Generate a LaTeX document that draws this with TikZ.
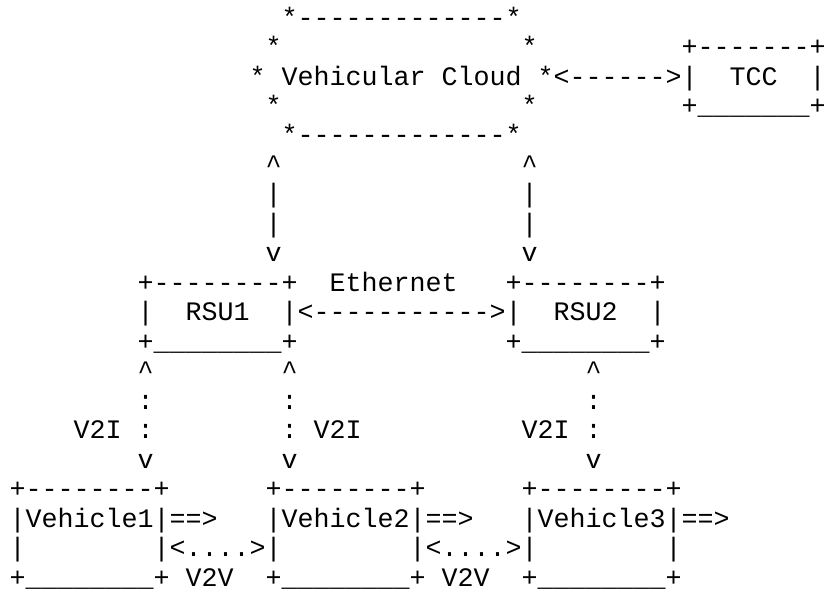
\documentclass[tikz,border=0pt]{standalone}
\usepackage{fontspec}
\setmonofont{Liberation Mono}
\begin{document}
\begin{tikzpicture}[x=16pt,y=-29.47pt,
  txt/.style={anchor=base west,inner sep=0pt,outer sep=0pt,
    font=\ttfamily\fontsize{26.67pt}{29.47pt}\selectfont}]
\useasboundingbox (0pt,0pt) rectangle (824pt,-590pt);
\def\up{\textasciicircum}
\def\bar{\_\_\_\_\_\_\_\_}
\begin{scope}[shift={(0.6,-0.1157)}]
  % vehicular cloud
  \node[txt] (cloudtop) at (17,1) {*-------------*};
  \node[txt] (cloudnw)  at (16,2) {*};
  \node[txt] (cloudne)  at (32,2) {*};
  \node[txt] (cloud)    at (15,3) {* Vehicular Cloud *};
  \node[txt] (cloudsw)  at (16,4) {*};
  \node[txt] (cloudse)  at (32,4) {*};
  \node[txt] (cloudbot) at (17,5) {*-------------*};
  % traffic control center
  \node[txt] (tcctop)   at (42,2) {+-------+};
  \node[txt] (tccl)     at (42,3) {|};
  \node[txt] (tcc)      at (45,3) {TCC};
  \node[txt] (tccr)     at (50,3) {|};
  \node[txt] (tccbot)   at (42,4) {+\_\_\_\_\_\_\_+};
  \node[txt] (cloudtcc) at (34,3) {<------>};
  % cloud to RSU links
  \foreach \c/\n in {16/a,32/b}{
    \node[txt] (up\n)  at (\c,6) {\up};
    \node[txt] (ba\n)  at (\c,7) {|};
    \node[txt] (bb\n)  at (\c,8) {|};
    \node[txt] (dn\n)  at (\c,9) {v};
  }
  % road-side units
  \node[txt] (rsuatop) at (8,10) {+--------+};
  \node[txt] (eth)     at (20,10) {Ethernet};
  \node[txt] (rsubtop) at (31,10) {+--------+};
  \node[txt] (rsual)   at (8,11) {|};
  \node[txt] (rsua)    at (11,11) {RSU1};
  \node[txt] (rsulink) at (17,11) {|<----------->|};
  \node[txt] (rsub)    at (34,11) {RSU2};
  \node[txt] (rsubr)   at (40,11) {|};
  \node[txt] (rsuabot) at (8,12) {+\bar+};
  \node[txt] (rsubbot) at (31,12) {+\bar+};
  % V2I links
  \foreach \c/\n in {8/a,17/b,36/c}{
    \node[txt] (vup\n) at (\c,13) {\up};
    \node[txt] (vdt\n) at (\c,14) {:};
    \node[txt] (vdn\n) at (\c,16) {v};
  }
  \node[txt] (vtoia) at (4,15) {V2I :};
  \node[txt] (vtoib) at (17,15) {: V2I};
  \node[txt] (vtoic) at (32,15) {V2I :};
  % vehicles
  \foreach \c/\k in {0/1,16/2,32/3}{
    \node[txt] (veh\k top) at (\c,17) {+--------+};
    \node[txt] (veh\k)     at (\c,18) {|Vehicle\k|==>};
    \node[txt] (veh\k bot) at (\c,20) {+\bar+};
  }
  \node[txt] (vl)   at (0,19)  {|};
  \node[txt] (v2va) at (9,19)  {|<....>|};
  \node[txt] (v2vb) at (25,19) {|<....>|};
  \node[txt] (vr)   at (41,19) {|};
  \node[txt] (v2vla) at (11,20) {V2V};
  \node[txt] (v2vlb) at (27,20) {V2V};
\end{scope}
\end{tikzpicture}
\end{document}
